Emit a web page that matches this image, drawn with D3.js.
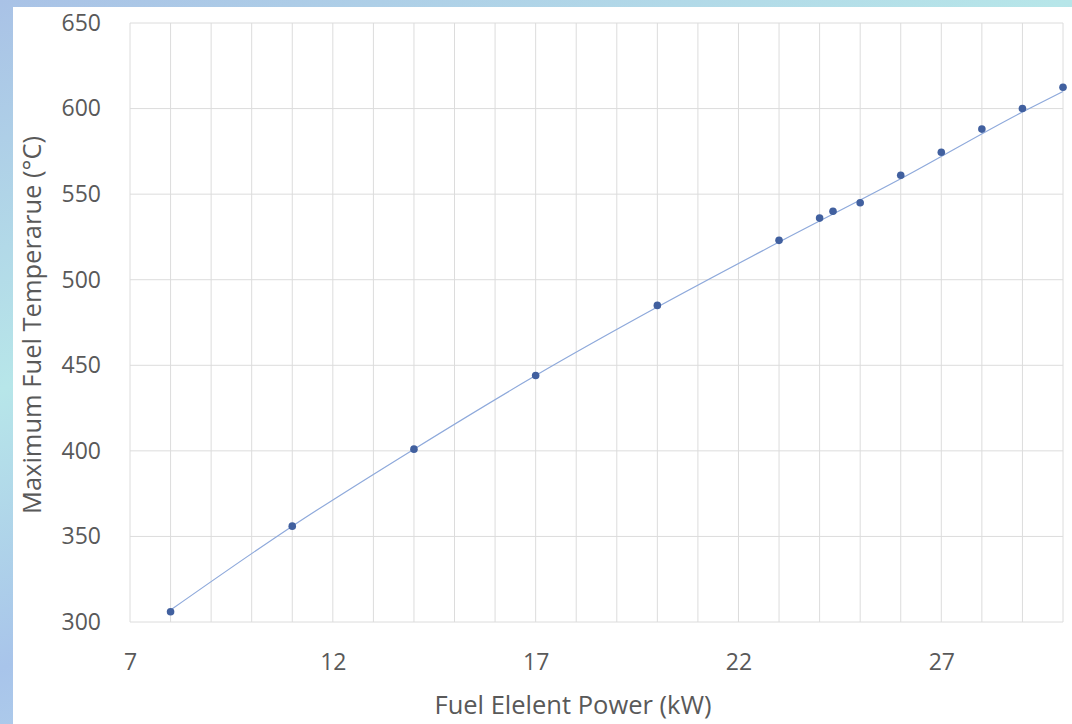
<!DOCTYPE html>
<meta charset="utf-8">
<title>Fuel Element Power</title>
<style>
  html, body {
    margin: 0;
    width: 1072px;
    height: 724px;
    overflow: hidden;
    background: linear-gradient(160deg, #a9c2e6 0%, #b7e6e9 35%, #a8c4ea 60%, #c4ecee 100%);
  }
  svg { display: block; }
  .grid line { stroke: #dcdcdc; stroke-width: 1; }
  .tick text { font-family: 'Open Sans', sans-serif; fill: #595959; }
  .trend { fill: none; stroke: #8ea9db; stroke-width: 1.2px; }
  .title { font-family: 'Open Sans', sans-serif; font-size: 25.5px; fill: #595959; }
</style>
<body>
<script src="https://cdn.jsdelivr.net/npm/d3@7"></script>
<script>

// data
var power = [8, 11, 14, 17, 20, 23, 24, 24.33, 25, 26, 27, 28, 29, 30];
var temp  = [306, 356, 401, 444, 485, 523, 536, 540, 545, 561, 574.5, 588, 600, 612.5];

// trendline as it shows in the picture
var trendX = [8, 11, 14, 17, 20, 23, 26, 29, 30];
var trendY = [307, 356, 401, 444, 484, 522, 559, 598, 610];

var xTicks = [7, 12, 17, 22, 27];
var yTicks = [300, 350, 400, 450, 500, 550, 600, 650];

var W = 1072, H = 724;
var margin = {top: 23, right: 9, bottom: 102, left: 130};
var width = W - margin.left - margin.right,
    height = H - margin.top - margin.bottom;

var svg = d3.select("body").append("svg")
    .attr("width", W)
    .attr("height", H);

// white chart card
svg.append("rect")
    .attr("x", 13).attr("y", 7)
    .attr("width", W - 13).attr("height", H - 7)
    .attr("fill", "#fff");

var g = svg.append("g")
    .attr("transform", "translate(" + margin.left + "," + margin.top + ")");

var x = d3.scaleLinear().domain([7, 30]).range([0, width]);
var y = d3.scaleLinear().domain([300, 650]).range([height, 0]);

// vertical grid, one per kW
g.append("g").attr("class", "grid")
  .selectAll("line").data(d3.range(7, 31))
  .enter().append("line")
    .attr("x1", function(d) { return x(d); })
    .attr("x2", function(d) { return x(d); })
    .attr("y1", 0).attr("y2", height);

// horizontal grid
g.append("g").attr("class", "grid")
  .selectAll("line").data(yTicks)
  .enter().append("line")
    .attr("x1", 0).attr("x2", width)
    .attr("y1", function(d) { return y(d); })
    .attr("y2", function(d) { return y(d); });

// axes (labels only)
var xAxis = g.append("g")
    .attr("transform", "translate(0," + height + ")")
    .call(d3.axisBottom(x).tickValues(xTicks).tickSize(0).tickPadding(32));
xAxis.select(".domain").remove();
xAxis.selectAll("text").style("font-size", "23px");

var yAxis = g.append("g")
    .call(d3.axisLeft(y).tickValues(yTicks).tickSize(0).tickPadding(29));
yAxis.select(".domain").remove();
yAxis.selectAll("text").style("font-size", "23px");

// trendline
var line = d3.line()
    .x(function(d) { return x(d[0]); })
    .y(function(d) { return y(d[1]); })
    .curve(d3.curveMonotoneX);

g.append("path")
    .datum(d3.zip(trendX, trendY))
    .attr("class", "trend")
    .attr("d", line);

// points
g.selectAll(".dot")
    .data(d3.zip(power, temp))
  .enter().append("circle")
    .attr("class", "dot")
    .attr("cx", function(d) { return x(d[0]); })
    .attr("cy", function(d) { return y(d[1]); })
    .attr("r", 3.8)
    .attr("fill", "#41609f");

// axis titles
svg.append("text")
    .attr("class", "title")
    .attr("x", 573).attr("y", 714)
    .attr("text-anchor", "middle")
    .text("Fuel Elelent Power (kW)");

svg.append("text")
    .attr("class", "title")
    .attr("transform", "translate(41,325) rotate(-90)")
    .attr("text-anchor", "middle")
    .text("Maximum Fuel Temperarue (°C)");

</script>
</body>
